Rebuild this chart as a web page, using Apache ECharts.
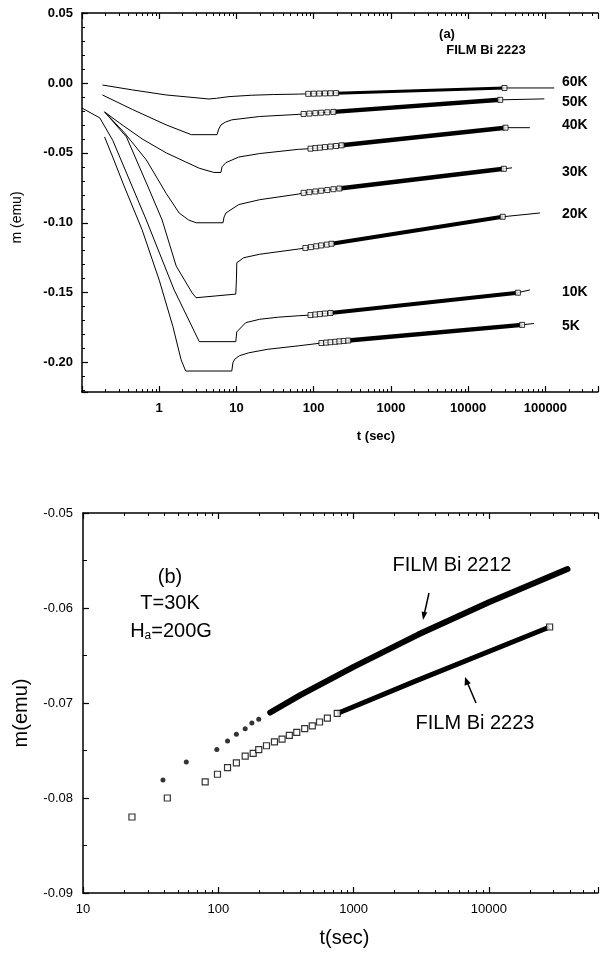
<!DOCTYPE html>
<html><head><meta charset="utf-8">
<script src="https://cdn.jsdelivr.net/npm/echarts@6/dist/echarts.min.js"></script>
<style>html,body{margin:0;padding:0;background:#fff}#c{width:601px;height:954px}</style>
</head><body><div id="c"></div>
<script>
// ---------- Panel (a): FILM Bi 2223, m(t) at several temperatures ----------
const t60K = [0.184, 0.45, 1.23, 2.5, 4.4, 5.5, 8, 15.8, 30, 63, 85, 29500, 130000];
const m60K = [-0.0015, -0.0050, -0.0086, -0.0102, -0.0115, -0.0110, -0.0098, -0.0088, -0.0083, -0.0080, -0.0078, -0.0036, -0.0036];
const t50K = [0.184, 0.45, 1.23, 2.6, 5.6, 5.9, 6.3, 7.2, 8.7, 20, 63, 74, 26000, 97000];
const m50K = [-0.0086, -0.0190, -0.0300, -0.0370, -0.0370, -0.0330, -0.0300, -0.0280, -0.0264, -0.0240, -0.0225, -0.0222, -0.0121, -0.0114];
const t40K = [0.196, 0.305, 0.6, 1.23, 2.2, 3.3, 5.1, 6.3, 6.5, 7.3, 10.7, 20, 63, 91, 30500, 63000];
const m40K = [-0.0207, -0.0286, -0.0400, -0.0500, -0.0565, -0.0610, -0.0640, -0.0640, -0.0600, -0.0570, -0.0530, -0.0505, -0.0475, -0.0470, -0.0320, -0.0320];
const t30K = [0.196, 0.355, 0.68, 1.23, 1.81, 2.4, 3.0, 6.7, 6.9, 7.3, 10.7, 20, 63, 74, 29000, 37000];
const m30K = [-0.0207, -0.0357, -0.0550, -0.0790, -0.0930, -0.0980, -0.1000, -0.1000, -0.0960, -0.0930, -0.0870, -0.0835, -0.0795, -0.0786, -0.0614, -0.0607];
const t20K = [0.196, 0.376, 0.7, 1.09, 1.66, 2.66, 3.0, 9.8, 10.0, 10.1, 12.4, 20, 63, 78, 28000, 85000];
const m20K = [-0.0207, -0.0386, -0.0730, -0.0980, -0.1310, -0.1500, -0.1536, -0.1510, -0.1400, -0.1286, -0.1250, -0.1225, -0.1188, -0.1180, -0.0957, -0.0930];
const t10K = [0.1, 0.17, 0.25, 0.68, 1.56, 3.3, 9.8, 10.1, 13.2, 20, 35, 63, 91, 44000, 63000];
const m10K = [-0.0180, -0.0250, -0.0410, -0.0980, -0.1480, -0.1850, -0.1850, -0.1780, -0.1714, -0.1690, -0.1675, -0.1665, -0.1660, -0.1500, -0.1480];
const t5K = [0.196, 0.25, 0.35, 0.6, 1.0, 1.5, 1.92, 2.2, 8.7, 9.0, 9.5, 11, 14.4, 25, 63, 126, 50000, 71000];
const m5K = [-0.0386, -0.0530, -0.0736, -0.1050, -0.1410, -0.1740, -0.1980, -0.2060, -0.2060, -0.2000, -0.1975, -0.1950, -0.1930, -0.1905, -0.1880, -0.1860, -0.1730, -0.1720];

// open-square measured points (dense band in the original)
const tMk60K = [85, 100, 118, 140, 165, 195, 29500];
const mMk60K = [-0.0078, -0.0077, -0.0076, -0.0075, -0.0074, -0.0073, -0.0036];
const tMk50K = [74, 88, 105, 125, 150, 180, 26000];
const mMk50K = [-0.0222, -0.0219, -0.0216, -0.0213, -0.0210, -0.0207, -0.0121];
const tMk40K = [91, 105, 120, 140, 165, 195, 230, 30500];
const mMk40K = [-0.0470, -0.0466, -0.0463, -0.0459, -0.0455, -0.0451, -0.0446, -0.0320];
const tMk30K = [74, 88, 105, 125, 150, 180, 215, 29000];
const mMk30K = [-0.0786, -0.0781, -0.0776, -0.0771, -0.0766, -0.0760, -0.0755, -0.0614];
const tMk20K = [78, 92, 108, 125, 148, 170, 28000];
const mMk20K = [-0.1180, -0.1174, -0.1168, -0.1162, -0.1156, -0.1150, -0.0957];
const tMk10K = [91, 105, 120, 140, 165, 44000];
const mMk10K = [-0.1660, -0.1656, -0.1653, -0.1649, -0.1645, -0.1500];
const tMk5K = [126, 145, 165, 190, 215, 245, 280, 50000];
const mMk5K = [-0.1860, -0.1857, -0.1854, -0.1851, -0.1848, -0.1845, -0.1842, -0.1730];

const curveNamesA = ['60K', '50K', '40K', '30K', '20K', '10K', '5K'];

// ---------- Panel (b): T = 30K, Ha = 200G ----------
const tB2212 = [39, 58, 97.5, 117, 136, 158, 177, 199, 242];
const mB2212 = [-0.0781, -0.0762, -0.0749, -0.0740, -0.0733, -0.0727, -0.0721, -0.0717, -0.0710];
const tB2212Band = [242, 400, 1000, 3000, 10000, 38100];
const mB2212Band = [-0.0710, -0.0692, -0.0662, -0.0628, -0.0594, -0.0559];
const tB2223 = [23, 42, 80, 98.6, 117, 136, 158, 181, 199, 227, 260, 296, 335, 380, 435, 495, 560, 640, 757, 28100];
const mB2223 = [-0.0820, -0.0800, -0.0783, -0.0775, -0.0768, -0.0763, -0.0756, -0.0753, -0.0749, -0.0745, -0.0741, -0.0738, -0.0734, -0.0731, -0.0727, -0.0724, -0.0720, -0.0716, -0.0711, -0.0620];
const tB2223Band = [757, 2860, 28100];
const mB2223Band = [-0.0711, -0.0677, -0.0620];

// tick label values
const yTicksA = [0.05, 0.00, -0.05, -0.10, -0.15, -0.20];
const xDecadesA = [0.1, 1, 10, 100, 1000, 10000, 100000];
const xDecadesB = [10, 100, 1000, 10000];
const minorMult = [2, 3, 4, 5, 6, 7, 8, 9];

const X_MAX_A = 480000, X_MAX_B = 64000;
const FONT = 'Liberation Sans';

const pair = (t, m) => t.map((v, i) => [v, m[i]]);
const minorTicks = (decades, max) => {
  const out = [];
  decades.forEach(d => minorMult.forEach(k => { if (d * k <= max) out.push(d * k); }));
  return out;
};
const logFmt = (minExp) => v => {
  const e = Math.log10(v), r = Math.round(e);
  return (Math.abs(e - r) < 1e-6 && r >= minExp) ? String(Math.round(Math.pow(10, r))) : '';
};

const curvesA = {
  '60K': [t60K, m60K, tMk60K, mMk60K, 3],
  '50K': [t50K, m50K, tMk50K, mMk50K, 4.5],
  '40K': [t40K, m40K, tMk40K, mMk40K, 4.5],
  '30K': [t30K, m30K, tMk30K, mMk30K, 4.5],
  '20K': [t20K, m20K, tMk20K, mMk20K, 4],
  '10K': [t10K, m10K, tMk10K, mMk10K, 4],
  '5K': [t5K, m5K, tMk5K, mMk5K, 4.5]
};

const series = [];
curveNamesA.forEach(name => {
  const [t, m, tm, mm, bw] = curvesA[name];
  const mk = pair(tm, mm);
  series.push({ name: name, type: 'line', xAxisIndex: 0, yAxisIndex: 0, data: pair(t, m),
    showSymbol: false, lineStyle: { color: '#000', width: 1 }, z: 2 });
  series.push({ name: name + ' band', type: 'line', xAxisIndex: 0, yAxisIndex: 0, data: mk.slice(-2),
    showSymbol: false, lineStyle: { color: '#000', width: bw }, z: 3 });
  series.push({ name: name + ' points', type: 'scatter', xAxisIndex: 0, yAxisIndex: 0, data: mk,
    symbol: 'rect', symbolSize: 5, itemStyle: { color: '#fff', borderColor: '#000', borderWidth: 1 }, z: 4 });
});

series.push({ name: 'FILM Bi 2212 band', type: 'line', xAxisIndex: 2, yAxisIndex: 1,
  data: pair(tB2212Band, mB2212Band), showSymbol: false,
  lineStyle: { color: '#000', width: 6, cap: 'round' }, z: 3 });
series.push({ name: 'FILM Bi 2212', type: 'scatter', xAxisIndex: 2, yAxisIndex: 1,
  data: pair(tB2212, mB2212), symbol: 'circle', symbolSize: 5,
  itemStyle: { color: '#000' }, z: 4 });
series.push({ name: 'FILM Bi 2223 band', type: 'line', xAxisIndex: 2, yAxisIndex: 1,
  data: pair(tB2223Band, mB2223Band), showSymbol: false,
  lineStyle: { color: '#000', width: 5 }, z: 3 });
series.push({ name: 'FILM Bi 2223', type: 'scatter', xAxisIndex: 2, yAxisIndex: 1,
  data: pair(tB2223, mB2223), symbol: 'rect', symbolSize: 6,
  itemStyle: { color: '#fff', borderColor: '#000', borderWidth: 1.2 }, z: 5 });

// minor log ticks (2..9 per decade) on bottom and top frame lines
function minorTickSeries(xIdx, yIdx, vals, yRef) {
  return {
    type: 'custom', xAxisIndex: xIdx, yAxisIndex: yIdx, silent: true, clip: false, z: 6,
    data: vals.map(v => [v, yRef]),
    renderItem: (params, api) => {
      const cs = params.coordSys;
      const x = Math.round(api.coord([api.value(0), yRef])[0]) + 0.5;
      const yb = cs.y + cs.height, yt = cs.y;
      return { type: 'group', children: [
        { type: 'line', shape: { x1: x, y1: yb, x2: x, y2: yb - 3 }, style: { stroke: '#000', lineWidth: 1 } },
        { type: 'line', shape: { x1: x, y1: yt, x2: x, y2: yt + 3 }, style: { stroke: '#000', lineWidth: 1 } }
      ]};
    }
  };
}
series.push(minorTickSeries(0, 0, minorTicks(xDecadesA, X_MAX_A), 0));
series.push(minorTickSeries(2, 1, minorTicks(xDecadesB, X_MAX_B), -0.07));

const axisLineS = { show: true, onZero: false, lineStyle: { color: '#000', width: 1.5 } };
const tickS = { show: true, inside: true, length: 6, lineStyle: { color: '#000', width: 1.2 } };

const option = {
  animation: false,
  backgroundColor: '#fff',
  textStyle: { fontFamily: FONT, color: '#000' },
  grid: [
    { left: 82, top: 13, right: 0, height: 379 },
    { left: 83, top: 513, right: 0, height: 380 }
  ],
  xAxis: [
    { gridIndex: 0, type: 'log', logBase: 10, min: 0.1, max: X_MAX_A, position: 'bottom',
      axisLine: axisLineS, axisTick: tickS, splitLine: { show: false },
      axisLabel: { formatter: logFmt(0), fontSize: 13, fontWeight: 'bold', color: '#000', margin: 10, fontFamily: FONT },
      name: 't (sec)', nameLocation: 'middle', nameGap: 38,
      nameTextStyle: { fontSize: 13, fontWeight: 'bold', color: '#000', fontFamily: FONT, padding: [0, 0, 0, 72] } },
    { gridIndex: 0, type: 'log', logBase: 10, min: 0.1, max: X_MAX_A, position: 'top',
      axisLine: axisLineS, axisTick: tickS, axisLabel: { show: false }, splitLine: { show: false } },
    { gridIndex: 1, type: 'log', logBase: 10, min: 10, max: X_MAX_B, position: 'bottom',
      axisLine: axisLineS, axisTick: tickS, splitLine: { show: false },
      axisLabel: { formatter: logFmt(1), fontSize: 13, color: '#000', margin: 10, fontFamily: FONT },
      name: 't(sec)', nameLocation: 'middle', nameGap: 35,
      nameTextStyle: { fontSize: 20, color: '#000', fontFamily: FONT, padding: [0, 0, 0, 8] } },
    { gridIndex: 1, type: 'log', logBase: 10, min: 10, max: X_MAX_B, position: 'top',
      axisLine: axisLineS, axisTick: tickS, axisLabel: { show: false }, splitLine: { show: false } }
  ],
  yAxis: [
    { gridIndex: 0, type: 'value', min: -0.221, max: 0.05, splitNumber: 5,
      axisLine: axisLineS, axisTick: tickS, splitLine: { show: false },
      minorTick: { show: true, splitNumber: 5, length: 3, lineStyle: { color: '#000', width: 1 } },
      axisLabel: { showMinLabel: false, formatter: v => (yTicksA.some(a => Math.abs(a - v) < 1e-9) ? v.toFixed(2) : ''),
        fontSize: 13, fontWeight: 'bold', color: '#000', margin: 9, fontFamily: FONT },
      name: 'm (emu)', nameLocation: 'middle', nameGap: 58,
      nameTextStyle: { fontSize: 14, color: '#000', fontFamily: FONT, padding: [0, 30, 0, 0] } },
    { gridIndex: 1, type: 'value', min: -0.09, max: -0.05, interval: 0.01,
      axisLine: axisLineS, axisTick: tickS, splitLine: { show: false },
      minorTick: { show: true, splitNumber: 2, length: 4, lineStyle: { color: '#000', width: 1 } },
      axisLabel: { formatter: v => v.toFixed(2), fontSize: 13, color: '#000', margin: 10, fontFamily: FONT },
      name: 'm(emu)', nameLocation: 'middle', nameGap: 52,
      nameTextStyle: { fontSize: 20, color: '#000', fontFamily: FONT, padding: [0, 20, 0, 0] } }
  ],
  series: series,
  graphic: []
};

const txt = (x, y, text, size, weight, extra) => ({
  type: 'text', x: x, y: y, silent: true, z: 10,
  style: Object.assign({ text: text, fill: '#000', fontSize: size, fontWeight: weight || 'normal',
    fontFamily: FONT, align: 'center', verticalAlign: 'middle' }, extra || {})
});
const labelY = { '60K': 82, '50K': 102, '40K': 125, '30K': 172, '20K': 214, '10K': 292, '5K': 326 };
curveNamesA.forEach(n => option.graphic.push(txt(562, labelY[n], n, 14, 'bold', { align: 'left' })));
option.graphic.push(txt(447, 34, '(a)', 13, 'bold'));
option.graphic.push(txt(486, 50, 'FILM Bi 2223', 13, 'bold'));
option.graphic.push(txt(170, 577, '(b)', 20));
option.graphic.push(txt(170, 603, 'T=30K', 20));
option.graphic.push(txt(171, 631, 'H{sub|a}=200G', 20, 'normal',
  { rich: { sub: { fontSize: 12, fontFamily: FONT, verticalAlign: 'bottom', padding: [10, 0, 0, 0] } } }));
option.graphic.push(txt(452, 565, 'FILM Bi 2212', 20));
option.graphic.push(txt(475, 723, 'FILM Bi 2223', 20));
// arrows
option.graphic.push({ type: 'line', silent: true, shape: { x1: 429, y1: 593, x2: 424.5, y2: 613 }, style: { stroke: '#000', lineWidth: 1.5 } });
option.graphic.push({ type: 'polygon', silent: true, shape: { points: [[423, 620], [427.4, 612.5], [421.6, 611.5]] }, style: { fill: '#000' } });
option.graphic.push({ type: 'line', silent: true, shape: { x1: 476, y1: 703, x2: 467.7, y2: 683.5 }, style: { stroke: '#000', lineWidth: 1.5 } });
option.graphic.push({ type: 'polygon', silent: true, shape: { points: [[465, 677], [470.8, 683.3], [464.6, 685.8]] }, style: { fill: '#000' } });

const chart = echarts.init(document.getElementById('c'), null, { renderer: 'canvas' });
chart.setOption(option);
</script>
</body></html>
